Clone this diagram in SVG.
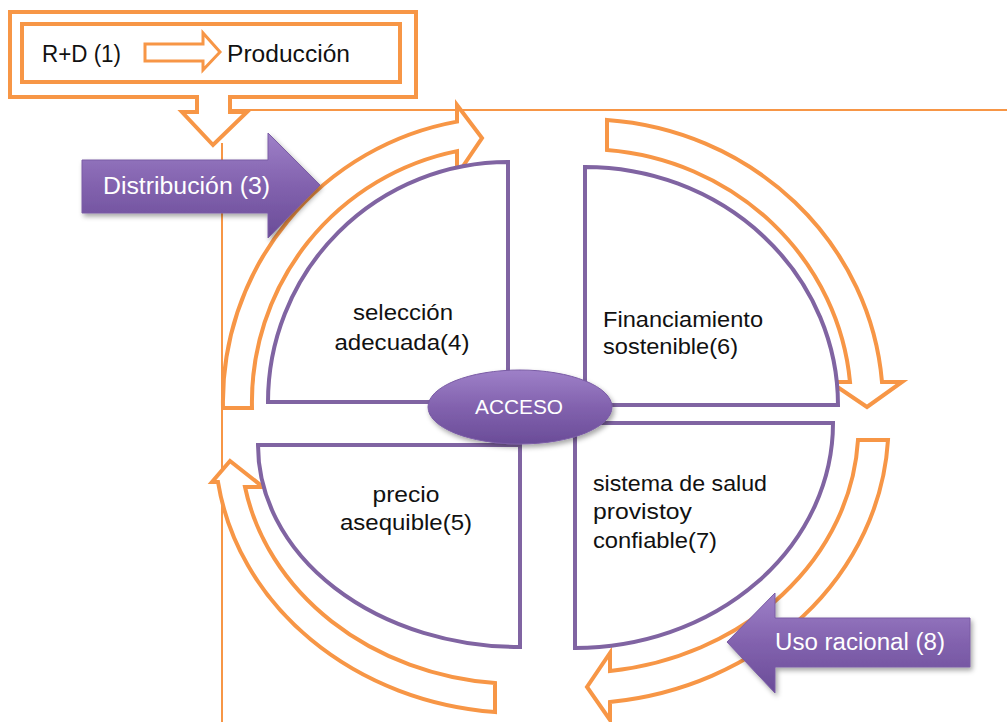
<svg xmlns="http://www.w3.org/2000/svg" width="1007" height="722" viewBox="0 0 1007 722">
<defs>
<linearGradient id="pg" x1="0" y1="0" x2="0" y2="1">
<stop offset="0" stop-color="#9E80C8"/>
<stop offset="0.5" stop-color="#8262AE"/>
<stop offset="1" stop-color="#6A4C98"/>
</linearGradient>
<filter id="sh" x="-10%" y="-10%" width="130%" height="140%">
<feDropShadow dx="2" dy="3" stdDeviation="2.5" flood-color="#000" flood-opacity="0.35"/>
</filter>
<style>
.ob{fill:#fff;stroke:#F79646;stroke-width:4;stroke-linejoin:miter}
.ol{fill:none;stroke:#F79646;stroke-width:2}
.q{fill:#fff;stroke:#8064A2;stroke-width:4;stroke-linejoin:miter}
.pa{fill:url(#pg);stroke:#7A5CA5;stroke-width:1;filter:url(#sh)}
.t{font-family:"Liberation Sans",Arial,sans-serif;fill:#111}
.w{font-family:"Liberation Sans",Arial,sans-serif;fill:#fff}
</style>
</defs>
<rect width="1007" height="722" fill="#fff"/>

<g id="guides">
<line class="ol" x1="232" y1="110" x2="1007" y2="110"/>
<line class="ol" x1="222" y1="143" x2="222" y2="722"/>
</g>

<g id="header">
<path class="ob" d="M10,12 H416 V97 H230 V112 H247 L213,145 L182,112 H197 V97 H10 Z"/>
<rect x="22" y="24" width="378" height="58" fill="#fff" stroke="#F79646" stroke-width="4"/>
<text class="t" x="42" y="62" font-size="23" textLength="79" lengthAdjust="spacingAndGlyphs">R+D (1)</text>
<path d="M145,44 H203 V33 L220,52 L203,70 V61 H145 Z" fill="#fff" stroke="#F79646" stroke-width="3"/>
<text class="t" x="227" y="62" font-size="23" textLength="123" lengthAdjust="spacingAndGlyphs">Producción</text>
</g>

<g id="connectors">
<path class="ob" d="M223,408 A285 285 0 0 1 457,121.6 L457,105 L482,138 L457,175 L457,151.1 A256 256 0 0 0 252,408 Z"/>
<path class="ob" d="M607,150 L607,120 A298 286 0 0 1 882,382 L902,382 L867,407 L830,382 L850,382 A266 256 0 0 0 607,150 Z"/>
<path class="ob" d="M858,440 L888,440 A313 279 0 0 1 610,702 L610,720 L587,687 L610,653 L610,671 A283 246 0 0 0 858,440 Z"/>
<path class="ob" d="M495,683 L495,712 A306 269 0 0 1 218,482 L212,482 L230,461 L263,487 L245,487 A279 240 0 0 0 495,683 Z"/>
</g>

<g id="q-seleccion">
<path class="q" d="M508,402 L268,402 A240 240 0 0 1 508,162 Z"/>
<text class="t" x="403" y="320" font-size="22" text-anchor="middle" textLength="100" lengthAdjust="spacingAndGlyphs">selección</text>
<text class="t" x="402" y="350" font-size="22" text-anchor="middle" textLength="135" lengthAdjust="spacingAndGlyphs">adecuada(4)</text>
</g>

<g id="q-financiamiento">
<path class="q" d="M585,405 L585,167 A253 238 0 0 1 838,405 Z"/>
<text class="t" x="603" y="327" font-size="22" textLength="160" lengthAdjust="spacingAndGlyphs">Financiamiento</text>
<text class="t" x="603" y="354" font-size="22" textLength="135" lengthAdjust="spacingAndGlyphs">sostenible(6)</text>
</g>

<g id="q-precio">
<path class="q" d="M520,445 L258,445 A262 202 0 0 0 520,647 Z"/>
<text class="t" x="406" y="502" font-size="22" text-anchor="middle" textLength="67" lengthAdjust="spacingAndGlyphs">precio</text>
<text class="t" x="406" y="530" font-size="22" text-anchor="middle" textLength="132" lengthAdjust="spacingAndGlyphs">asequible(5)</text>
</g>

<g id="q-sistema">
<path class="q" d="M575,423 L833,423 A258 225 0 0 1 575,648 Z"/>
<text class="t" x="593" y="491" font-size="22" textLength="174" lengthAdjust="spacingAndGlyphs">sistema de salud</text>
<text class="t" x="593" y="519" font-size="22" textLength="99" lengthAdjust="spacingAndGlyphs">provistoy</text>
<text class="t" x="593" y="548" font-size="22" textLength="124" lengthAdjust="spacingAndGlyphs">confiable(7)</text>
</g>

<g id="acceso">
<ellipse class="pa" cx="520" cy="407" rx="92" ry="37"/>
<text class="w" x="519" y="414" font-size="20" text-anchor="middle" textLength="88" lengthAdjust="spacingAndGlyphs">ACCESO</text>
</g>

<g id="distribucion">
<path class="pa" d="M82,160 H268 V133 L320,185 L268,238 V213 H82 Z"/>
<text class="w" x="103" y="194" font-size="23" textLength="167" lengthAdjust="spacingAndGlyphs">Distribución (3)</text>
</g>

<g id="uso-racional">
<path class="pa" d="M970,618 H775 V593 L727,642 L775,693 V667 H970 Z"/>
<text class="w" x="775" y="650" font-size="23" textLength="170" lengthAdjust="spacingAndGlyphs">Uso racional (8)</text>
</g>
</svg>
